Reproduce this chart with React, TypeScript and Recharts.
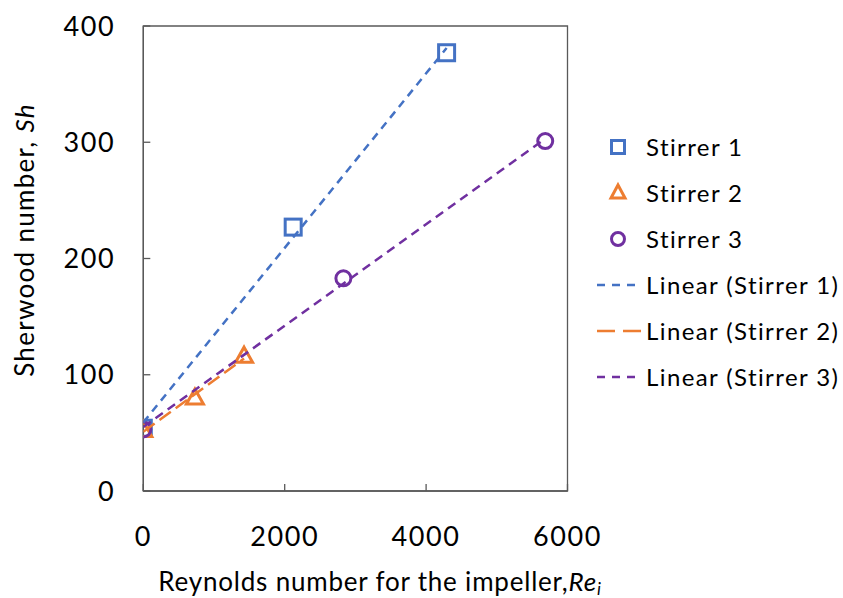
import React from "react";
import {
  ScatterChart,
  Scatter,
  XAxis,
  YAxis,
  ReferenceArea,
  Legend,
  Label,
} from "recharts";

const BLUE = "#4472C4";
const ORANGE = "#ED7D31";
const PURPLE = "#7030A0";
const AXIS = "#595959";
const FONT = "Lato, 'Open Sans', sans-serif";

const xTicks = [0, 2000, 4000, 6000];
const yTicks = [0, 100, 200, 300, 400];

const stirrer1 = [
  { x: 0, y: 54 },
  { x: 2120, y: 227 },
  { x: 4290, y: 377 },
];
const stirrer2 = [
  { x: 0, y: 52 },
  { x: 730, y: 80 },
  { x: 1425, y: 116 },
];
const stirrer3 = [
  { x: 0, y: 53 },
  { x: 2830, y: 183 },
  { x: 5685, y: 301 },
];

// trendline end points
const trend1 = [
  { x: 0, y: 59 },
  { x: 4290, y: 381 },
];
const trend2 = [
  { x: 0, y: 51 },
  { x: 1425, y: 114 },
];
const trend3 = [
  { x: 0, y: 55 },
  { x: 5685, y: 303 },
];

const seriesNames = ["Stirrer 1", "Stirrer 2", "Stirrer 3"];
const trendNames = ["Linear (Stirrer 1)", "Linear (Stirrer 2)", "Linear (Stirrer 3)"];

function SquareMark(p: any) {
  return (
    <rect
      x={p.cx - 8}
      y={p.cy - 8}
      width={16}
      height={16}
      fill="none"
      stroke={BLUE}
      strokeWidth={3}
    />
  );
}

function TriangleMark(p: any) {
  const { cx, cy } = p;
  return (
    <polygon
      points={`${cx},${cy - 9} ${cx + 8.5},${cy + 6} ${cx - 8.5},${cy + 6}`}
      fill="none"
      stroke={ORANGE}
      strokeWidth={3}
    />
  );
}

function CircleMark(p: any) {
  return <circle cx={p.cx} cy={p.cy} r={7.5} fill="none" stroke={PURPLE} strokeWidth={3} />;
}

const NoMark = () => <g />;

function LegendBox() {
  const rows = [27, 73, 119, 165, 211, 257];
  const textProps = {
    fontFamily: FONT,
    fontSize: 24,
    letterSpacing: 1.4,
    fill: "#000",
  };
  return (
    <svg width={252} height={280} style={{ overflow: "visible" }}>
      <rect x={21.5} y={rows[0] - 6.5} width={13} height={13} fill="none" stroke={BLUE} strokeWidth={3} />
      <polygon
        points={`28,${rows[1] - 8} 35,${rows[1] + 5} 21,${rows[1] + 5}`}
        fill="none"
        stroke={ORANGE}
        strokeWidth={3}
      />
      <circle cx={28} cy={rows[2]} r={6.5} fill="none" stroke={PURPLE} strokeWidth={3} />
      <line x1={7} x2={52} y1={rows[3]} y2={rows[3]} stroke={BLUE} strokeWidth={2.5} strokeDasharray="8 7" />
      <line x1={7} x2={52} y1={rows[4]} y2={rows[4]} stroke={ORANGE} strokeWidth={2.5} strokeDasharray="18 8" />
      <line x1={7} x2={52} y1={rows[5]} y2={rows[5]} stroke={PURPLE} strokeWidth={2.5} strokeDasharray="8 7" />
      {seriesNames.map((n, i) => (
        <text key={n} x={56} y={rows[i] + 8.5} {...textProps}>
          {n}
        </text>
      ))}
      {trendNames.map((n, i) => (
        <text key={n} x={56} y={rows[i + 3] + 8.5} {...textProps}>
          {n}
        </text>
      ))}
    </svg>
  );
}

function XTitle() {
  return (
    <text x={380} y={591} textAnchor="middle" fontFamily={FONT} fontSize={26} letterSpacing={0.8} fill="#000">
      Reynolds number for the impeller,
      <tspan fontStyle="italic">Re</tspan>
      <tspan fontStyle="italic" fontSize={17} dy={4}>
        i
      </tspan>
    </text>
  );
}

function YTitle() {
  return (
    <text
      transform="rotate(-90)"
      x={-240}
      y={34}
      textAnchor="middle"
      fontFamily={FONT}
      fontSize={26}
      letterSpacing={1.3}
      fill="#000"
    >
      Sherwood number, <tspan fontStyle="italic">Sh</tspan>
    </text>
  );
}

export default function App() {
  const tickStyle = { fill: "#000", fontSize: 27, fontFamily: FONT, letterSpacing: 1.6 };
  return (
    <div style={{ position: "absolute", left: 0, top: 0, background: "#fff" }}>
      <ScatterChart
        width={843}
        height={598}
        margin={{ top: 26, right: 275.5, bottom: 0, left: 0 }}
      >
        <XAxis
          type="number"
          dataKey="x"
          domain={[0, 6000]}
          ticks={xTicks}
          interval={0}
          height={107}
          tick={tickStyle}
          tickSize={-7}
          tickMargin={43}
          axisLine={{ stroke: AXIS, strokeWidth: 1.3 }}
          tickLine={{ stroke: AXIS, strokeWidth: 1.3 }}
          allowDataOverflow
        >
          <Label content={<XTitle />} />
        </XAxis>
        <YAxis
          type="number"
          dataKey="y"
          domain={[0, 400]}
          ticks={yTicks}
          interval={0}
          width={143.3}
          tick={tickStyle}
          tickSize={-7}
          tickMargin={35}
          axisLine={{ stroke: AXIS, strokeWidth: 1.3 }}
          tickLine={{ stroke: AXIS, strokeWidth: 1.3 }}
          allowDataOverflow
        >
          <Label content={<YTitle />} />
        </YAxis>
        <ReferenceArea
          x1={0}
          x2={6000}
          y1={0}
          y2={400}
          fill="none"
          fillOpacity={0}
          stroke={AXIS}
          strokeWidth={1.3}
        />
        <Scatter data={stirrer1} shape={SquareMark} isAnimationActive={false} />
        <Scatter data={stirrer2} shape={TriangleMark} isAnimationActive={false} />
        <Scatter data={stirrer3} shape={CircleMark} isAnimationActive={false} />
        <Scatter
          data={trend1}
          shape={NoMark}
          fill="none"
          line={{ stroke: BLUE, strokeWidth: 2.5, strokeDasharray: "8 6" }}
          lineType="joint"
          isAnimationActive={false}
        />
        <Scatter
          data={trend2}
          shape={NoMark}
          fill="none"
          line={{ stroke: ORANGE, strokeWidth: 2.5, strokeDasharray: "14 6" }}
          lineType="joint"
          isAnimationActive={false}
        />
        <Scatter
          data={trend3}
          shape={NoMark}
          fill="none"
          line={{ stroke: PURPLE, strokeWidth: 2.5, strokeDasharray: "9 6" }}
          lineType="joint"
          isAnimationActive={false}
        />
        <Legend
          layout="vertical"
          align="center"
          verticalAlign="middle"
          content={() => <LegendBox />}
          wrapperStyle={{ position: "absolute", left: 590, top: 120, width: 252, height: 280 }}
        />
      </ScatterChart>
    </div>
  );
}
